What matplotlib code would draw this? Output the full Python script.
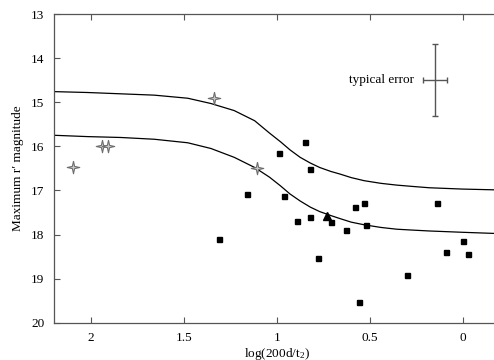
import matplotlib
matplotlib.use("Agg")
import matplotlib.pyplot as plt

plt.rcParams["font.family"] = ["Liberation Serif", "DejaVu Serif"]
plt.rcParams["mathtext.fontset"] = "custom"
plt.rcParams["mathtext.rm"] = "Liberation Serif"
plt.rcParams["mathtext.it"] = "Liberation Serif:italic"

# model curves
curve_x = [2.20, 2.02, 1.84, 1.66, 1.48, 1.355, 1.23, 1.12, 1.04, 0.98, 0.93, 0.875,
           0.82, 0.77, 0.71, 0.66, 0.60, 0.53, 0.44, 0.355, 0.27, 0.18, 0.0, -0.20]
upper_y = [14.76, 14.78, 14.81, 14.84, 14.91, 15.03, 15.19, 15.42, 15.70, 15.90, 16.08, 16.25,
           16.38, 16.48, 16.57, 16.63, 16.71, 16.78, 16.84, 16.88, 16.91, 16.94, 16.97, 16.99]
lower_y = [15.75, 15.78, 15.80, 15.84, 15.92, 16.05, 16.25, 16.48, 16.70, 16.90, 17.08, 17.24,
           17.38, 17.48, 17.57, 17.64, 17.72, 17.78, 17.84, 17.88, 17.90, 17.92, 17.95, 17.98]

# observed objects
sq_x = [1.16, 0.96, 0.89, 0.82, 0.78, 0.71, 0.63, 0.58, 0.53, 0.52, 0.56, 0.30,
        0.14, 0.09, 0.00, -0.03, 0.85, 0.99, 0.82, 1.31]
sq_y = [17.08, 17.13, 17.69, 17.60, 18.53, 17.72, 17.90, 17.38, 17.29, 17.78, 19.53, 18.91,
        17.29, 18.40, 18.15, 18.44, 15.90, 16.16, 16.52, 18.10]
star_x = [2.10, 1.94, 1.91, 1.34, 1.11]
star_y = [16.48, 15.99, 15.99, 14.90, 16.50]
tri_x = [0.73]
tri_y = [17.57]

err_x, err_y = 0.15, 14.50
err_dx, err_dy = 0.066, 0.81

star = [(0, 1), (0.18, 0.18), (1, 0), (0.18, -0.18), (0, -1), (-0.18, -0.18),
        (-1, 0), (-0.18, 0.18), (0, 1)]

fig = plt.figure(figsize=(4.94, 3.60), dpi=100)
ax = fig.add_axes([0.1093, 0.1036, 0.9026, 0.8575])

ax.plot(curve_x, upper_y, color="black", lw=0.9)
ax.plot(curve_x, lower_y, color="black", lw=0.9)

ax.plot(sq_x, sq_y, ls="none", marker="s", ms=3.6, color="black")
ax.plot(star_x, star_y, ls="none", marker=star, ms=9, mfc="#c8c8c8",
        mec="#6e6e6e", mew=0.8)
ax.plot(tri_x, tri_y, ls="none", marker="^", ms=6, color="black")

ax.errorbar([err_x], [err_y], xerr=[err_dx], yerr=[err_dy], fmt="none",
            ecolor="#555555", elinewidth=1.0, capsize=2, capthick=1.0)
ax.text(err_x + err_dx + 0.045, err_y, "typical error", ha="right", va="center",
        fontsize=9.5)

ax.set_xlim(2.2, -0.2)
ax.set_ylim(20, 13)
ax.set_xticks([2, 1.5, 1, 0.5, 0])
ax.set_xticklabels(["2", "1.5", "1", "0.5", "0"])
ax.set_yticks(range(13, 21))
ax.tick_params(direction="in", length=4, width=0.8, color="#555555",
               labelsize=9.5, top=True, pad=7)
for sp in ax.spines.values():
    sp.set_color("#555555")
    sp.set_linewidth(0.9)

ax.set_xlabel("log(200d/t$_2$)", fontsize=9.5, labelpad=1)
ax.set_ylabel("Maximum r\u2032 magnitude", fontsize=9.5, labelpad=5)

fig.savefig("out.png", dpi=100)
